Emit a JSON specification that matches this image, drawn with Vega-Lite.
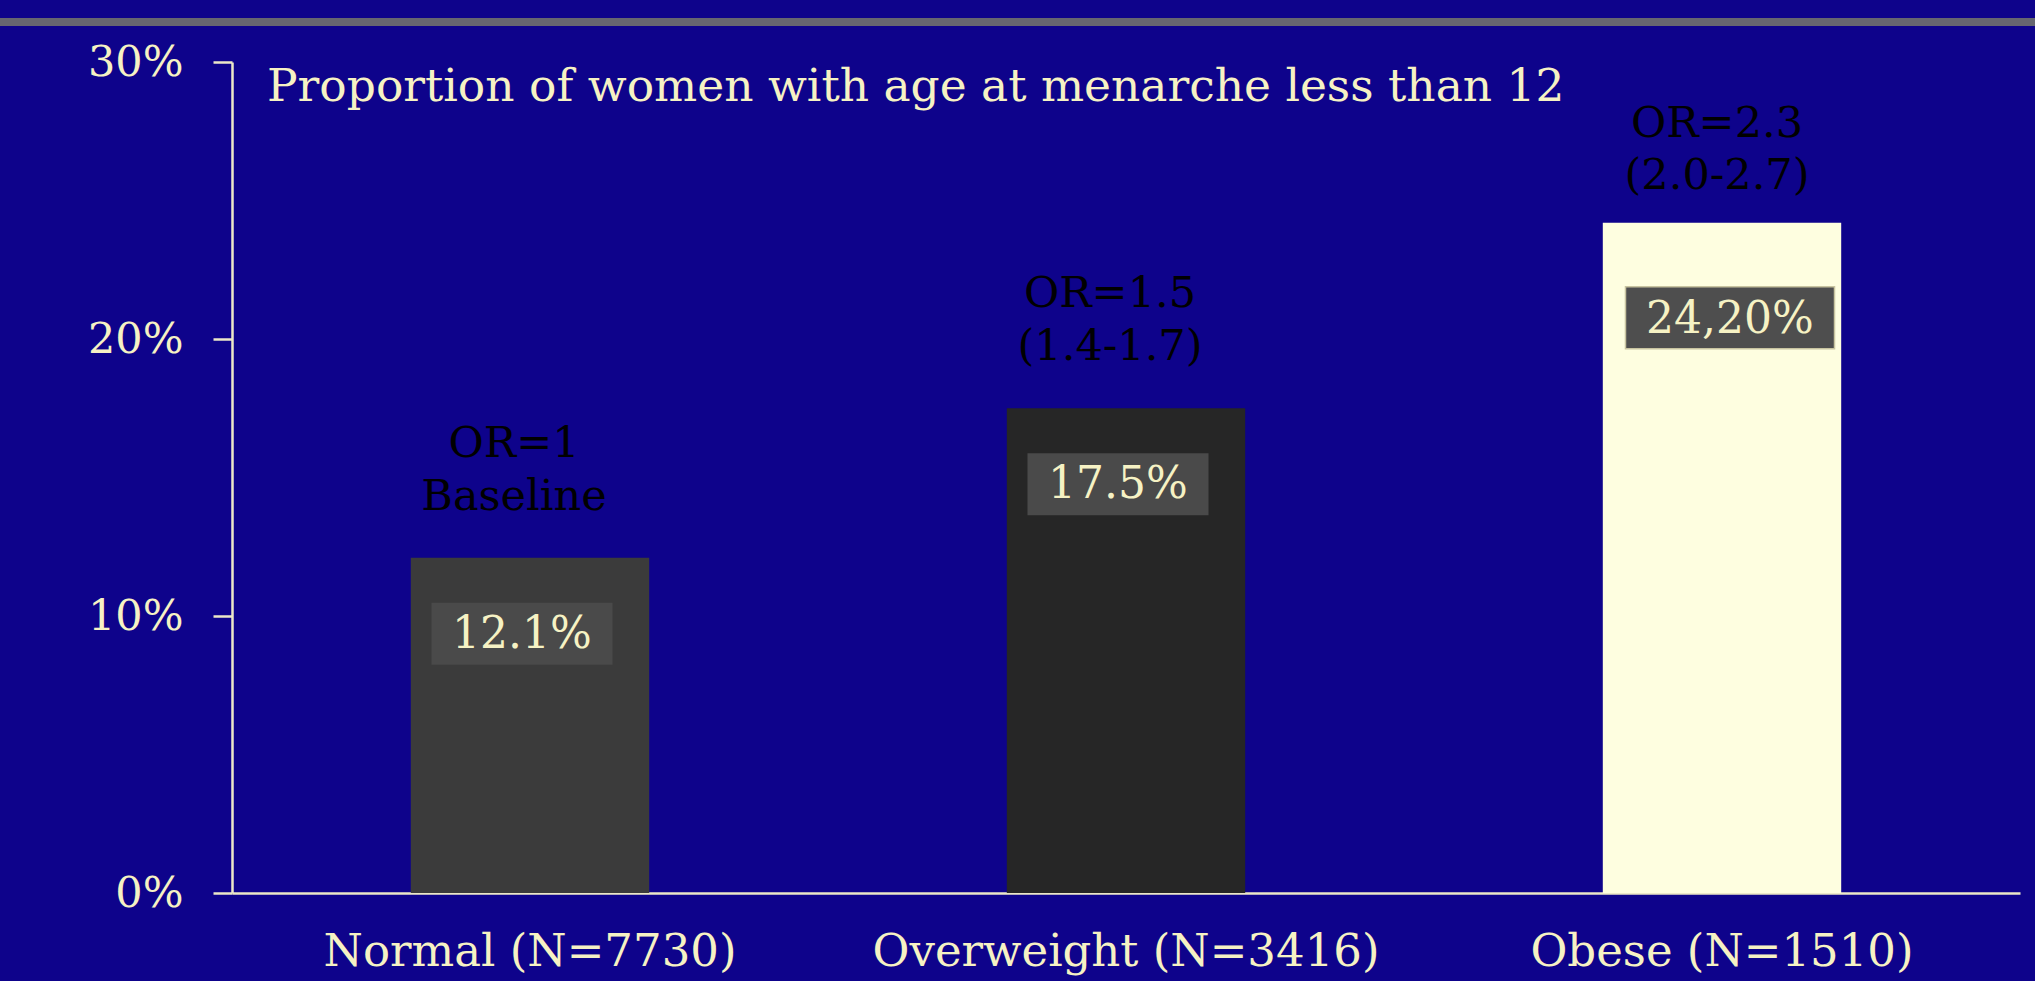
{
  "$schema": "https://vega.github.io/schema/vega-lite/v6.json",
  "width": 1788,
  "height": 831,
  "autosize": {"type": "none"},
  "padding": {"left": 232, "top": 62, "right": 15, "bottom": 88},
  "background": "#0e038b",
  "title": {
    "text": "Proportion of women with age at menarche less than 12",
    "anchor": "start",
    "frame": "group",
    "orient": "top",
    "dx": 35,
    "offset": -128,
    "baseline": "alphabetic",
    "font": "DejaVu Serif",
    "fontSize": 45.5,
    "fontWeight": "normal",
    "color": "#f6f2c4"
  },
  "config": {
    "view": {"stroke": null},
    "axis": {"grid": false, "labelFont": "DejaVu Serif", "labelColor": "#f6f2c4", "domainColor": "#ece8c8", "tickColor": "#ece8c8", "domainWidth": 2.5, "tickWidth": 2.5, "title": null}
  },
  "data": {
    "values": [
      {"group": "Normal (N=7730)", "pct": 0.121, "label": "12.1%", "or": "OR=1|Baseline"},
      {"group": "Overweight (N=3416)", "pct": 0.175, "label": "17.5%", "or": "OR=1.5|(1.4-1.7)"},
      {"group": "Obese (N=1510)", "pct": 0.242, "label": "24,20%", "or": "OR=2.3|(2.0-2.7)"}
    ]
  },
  "encoding": {
    "x": {
      "field": "group",
      "type": "nominal",
      "sort": null,
      "scale": {"domain": ["Normal (N=7730)", "Overweight (N=3416)", "Obese (N=1510)"], "paddingInner": 0.6, "paddingOuter": 0.3},
      "axis": {"labelAngle": 0, "ticks": false, "tickSize": 0, "labelFontSize": 45, "labelPadding": 36, "labelLimit": 0}
    },
    "y": {
      "field": "pct",
      "type": "quantitative",
      "scale": {"domain": [0, 0.3], "nice": false, "zero": true},
      "axis": {"format": "%", "values": [0, 0.1, 0.2, 0.3], "tickSize": 19, "labelFontSize": 43, "labelPadding": 30}
    }
  },
  "layer": [
    {
      "mark": {"type": "rule", "color": "#666670", "strokeWidth": 8, "xOffset": -530, "x2Offset": 313},
      "encoding": {
        "x": {"datum": "Normal (N=7730)", "type": "nominal"},
        "x2": {"datum": "Obese (N=1510)"},
        "y": {"datum": 0.3144, "type": "quantitative"}
      }
    },
    {
      "mark": {"type": "bar"},
      "encoding": {
        "color": {
          "field": "group",
          "type": "nominal",
          "scale": {"domain": ["Normal (N=7730)", "Overweight (N=3416)", "Obese (N=1510)"], "range": ["#3b3b3b", "#262626", "#fefee0"]},
          "legend": null
        }
      }
    },
    {
      "transform": [{"filter": "datum.group !== 'Obese (N=1510)'"}],
      "mark": {"type": "bar", "width": 181, "color": "#4a4a4a", "xOffset": -8, "yOffset": 45, "y2Offset": 107},
      "encoding": {"y2": {"field": "pct"}}
    },
    {
      "transform": [{"filter": "datum.group === 'Obese (N=1510)'"}],
      "mark": {"type": "bar", "width": 209, "color": "#4e4e4e", "stroke": "#c8c4a0", "strokeWidth": 1.5, "xOffset": 8, "yOffset": 64, "y2Offset": 126},
      "encoding": {"y2": {"field": "pct"}}
    },
    {
      "transform": [{"filter": "datum.group !== 'Obese (N=1510)'"}],
      "mark": {"type": "text", "font": "DejaVu Serif", "fontSize": 44, "color": "#f6f2c4", "align": "center", "baseline": "alphabetic", "dx": -8, "dy": 90},
      "encoding": {"text": {"field": "label"}}
    },
    {
      "transform": [{"filter": "datum.group === 'Obese (N=1510)'"}],
      "mark": {"type": "text", "font": "DejaVu Serif", "fontSize": 44, "color": "#f6f2c4", "align": "center", "baseline": "alphabetic", "dx": 8, "dy": 110},
      "encoding": {"text": {"field": "label"}}
    },
    {
      "transform": [{"filter": "datum.group !== 'Obese (N=1510)'"}],
      "mark": {"type": "text", "font": "DejaVu Serif", "fontSize": 43, "color": "#000000", "align": "center", "baseline": "alphabetic", "lineBreak": "|", "lineHeight": 53, "dx": -16, "dy": -101},
      "encoding": {"text": {"field": "or"}}
    },
    {
      "transform": [{"filter": "datum.group === 'Obese (N=1510)'"}],
      "mark": {"type": "text", "font": "DejaVu Serif", "fontSize": 43, "color": "#000000", "align": "center", "baseline": "alphabetic", "lineBreak": "|", "lineHeight": 52, "dx": -5, "dy": -86},
      "encoding": {"text": {"field": "or"}}
    }
  ]
}
